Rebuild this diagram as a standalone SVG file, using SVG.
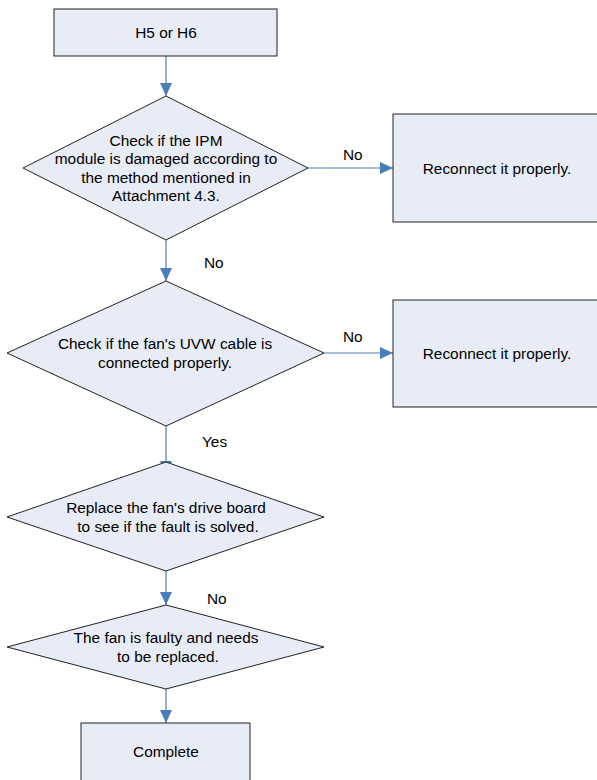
<svg xmlns="http://www.w3.org/2000/svg" width="597" height="780" viewBox="0 0 597 780">
<style>
.n{fill:#E8ECF7;stroke:#222;stroke-width:1}
.c{stroke:#4A7EBB;stroke-width:1.2;fill:none;marker-end:url(#ah)}
text{font-family:"Liberation Sans",Arial,sans-serif;font-size:15.4px;fill:#000}
.m{text-anchor:middle}
</style>
<defs>
<marker id="ah" markerUnits="userSpaceOnUse" markerWidth="13" markerHeight="12" refX="13" refY="6" orient="auto">
<path d="M0,0 L13,6 L0,12 z" fill="#4A7EBB"/>
</marker>
</defs>
<rect width="597" height="780" fill="#fff"/>
<g id="connectors">
<line class="c" x1="166" y1="56" x2="166" y2="96"/>
<line class="c" x1="308" y1="168" x2="393" y2="168"/>
<line class="c" x1="166" y1="240" x2="166" y2="281"/>
<line class="c" x1="324" y1="353" x2="393" y2="353"/>
<line class="c" x1="166" y1="426" x2="166" y2="474"/>
<line class="c" x1="166" y1="571" x2="166" y2="605"/>
<line class="c" x1="166" y1="689" x2="166" y2="723"/>
<text x="343" y="160">No</text>
<text x="204" y="268">No</text>
<text x="343" y="342">No</text>
<text x="202" y="447">Yes</text>
<text x="207" y="604">No</text>
</g>
<g id="start">
<rect class="n" x="54" y="9" width="223" height="47"/>
<text class="m" x="166" y="37.7">H5 or H6</text>
</g>
<g id="check-ipm">
<polygon class="n" points="166,96 308,168 166,240 23,168"/>
<text class="m" x="166" y="145.7">Check if the IPM</text>
<text class="m" x="166" y="164.2">module is damaged according to</text>
<text class="m" x="166" y="182.6">the method mentioned in</text>
<text class="m" x="166" y="201">Attachment 4.3.</text>
</g>
<g id="reconnect-1">
<rect class="n" x="393" y="114" width="210" height="108"/>
<text class="m" x="497" y="174">Reconnect it properly.</text>
</g>
<g id="check-uvw">
<polygon class="n" points="166,281 324,353 166,426 7,353"/>
<text class="m" x="165" y="349">Check if the fan's UVW cable is</text>
<text class="m" x="165" y="368.3">connected properly.</text>
</g>
<g id="reconnect-2">
<rect class="n" x="393" y="300" width="210" height="107"/>
<text class="m" x="497" y="359">Reconnect it properly.</text>
</g>
<g id="replace-board">
<polygon class="n" points="166,462 324,517 166,571 7,517"/>
<text class="m" x="166" y="512.7">Replace the fan's drive board</text>
<text class="m" x="168" y="531.7">to see if the fault is solved.</text>
</g>
<g id="fan-faulty">
<polygon class="n" points="166,605 324,647 166,689 7,647"/>
<text class="m" x="166" y="642.7">The fan is faulty and needs</text>
<text class="m" x="168" y="661.7">to be replaced.</text>
</g>
<g id="complete">
<rect class="n" x="81" y="723" width="169" height="70"/>
<text class="m" x="166" y="757.3">Complete</text>
</g>
</svg>
